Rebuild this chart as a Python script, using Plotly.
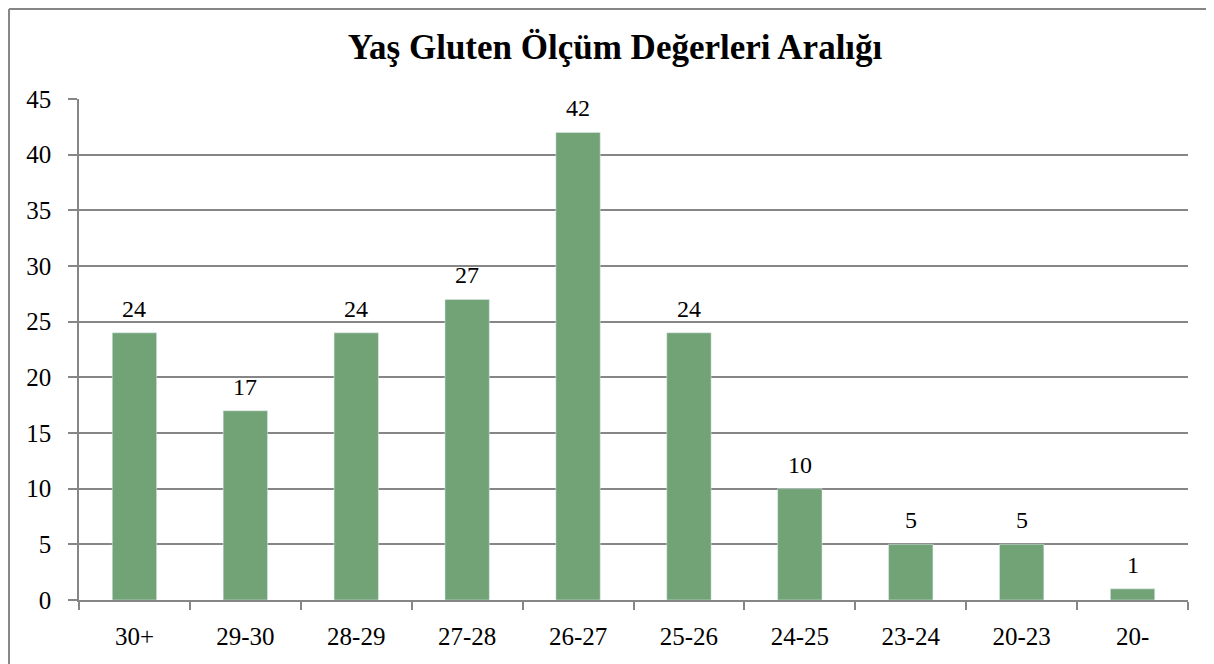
import plotly.graph_objects as go

# Yaş gluten aralıkları ve örnek sayıları
categories = ["30+", "29-30", "28-29", "27-28", "26-27", "25-26", "24-25", "23-24", "20-23", "20-"]
counts = [24, 17, 24, 27, 42, 24, 10, 5, 5, 1]
y_ticks = [0, 5, 10, 15, 20, 25, 30, 35, 40, 45]

grid_color = "#868686"
bar_color = "#71A376"
serif = "Liberation Serif, DejaVu Serif, serif"

fig = go.Figure(go.Bar(
    x=categories,
    y=counts,
    width=0.4,
    marker_color=bar_color,
    hovertemplate="<b>%{x}</b><br>%{y}<extra></extra>",
))

# Değer etiketleri (çubukların üstünde)
for cat, val in zip(categories, counts):
    fig.add_annotation(
        x=cat, y=val, text=str(val),
        showarrow=False, yanchor="bottom", yshift=9,
        font=dict(family=serif, size=24, color="black"),
    )

fig.update_layout(
    width=1214,
    height=664,
    margin=dict(l=71, r=34, t=91, b=72),
    paper_bgcolor="white",
    plot_bgcolor="white",
    showlegend=False,
    title=dict(
        text="<b>Yaş Gluten Ölçüm Değerleri Aralığı</b>",
        x=0.5, xanchor="center", xref="container",
        y=0.941, yanchor="middle",
        font=dict(family=serif, size=35, color="black"),
    ),
    font=dict(family=serif, size=25, color="black"),
)

fig.update_yaxes(
    range=[0, 45],
    tickvals=y_ticks,
    showgrid=True,
    gridcolor=grid_color,
    gridwidth=1.5,
    showline=True,
    linecolor=grid_color,
    linewidth=1.5,
    ticks="outside",
    ticklen=9,
    tickcolor=grid_color,
    tickwidth=1.5,
    ticklabelstandoff=12,
    zeroline=False,
    tickfont=dict(family=serif, size=25),
)

fig.update_xaxes(
    showline=True,
    linecolor=grid_color,
    linewidth=1.5,
    ticks="outside",
    tickson="boundaries",
    ticklen=8,
    tickcolor=grid_color,
    tickwidth=1.5,
    ticklabelstandoff=13,
    showgrid=False,
    tickfont=dict(family=serif, size=25),
)

# Çerçeve (sol ve üst kenar)
fig.add_shape(type="line", xref="paper", yref="paper",
              x0=-0.0631, x1=-0.0631, y0=1.1796, y1=-0.2,
              line=dict(color=grid_color, width=2))
fig.add_shape(type="line", xref="paper", yref="paper",
              x0=-0.0631, x1=1.05, y0=1.1796, y1=1.1796,
              line=dict(color=grid_color, width=2))

fig.write_html("out.html")
